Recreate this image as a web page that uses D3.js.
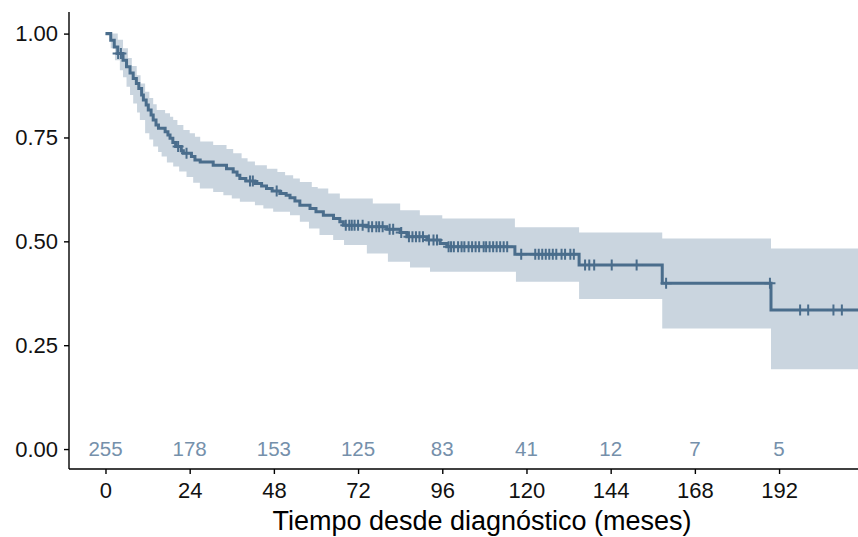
<!DOCTYPE html>
<html>
<head>
<meta charset="utf-8">
<script src="https://cdn.jsdelivr.net/npm/d3@7"></script>
<style>
  html, body { margin: 0; padding: 0; background: #ffffff; }
  svg { display: block; }
  text { font-family: "Liberation Sans", Arial, sans-serif; }
</style>
</head>
<body>
<svg id="chart" width="858" height="537"></svg>
<script>
// Kaplan–Meier estimate: step start times (months) and survival probability
const survTimes = [0, 1.5, 2.5, 3.5, 5.0, 6.0, 7.0, 7.9, 8.8, 9.5, 10.3, 10.8, 11.6, 12.2, 13.0, 13.6,
  14.4, 15.1, 17.0, 17.8, 18.4, 19.2, 20.0, 21.6, 22.2, 24.5, 25.5, 27.0, 30.7, 34.5, 36.4, 37.5,
  38.3, 40.0, 42.6, 44.5, 45.9, 47.5, 49.7, 51.5, 52.6, 54.0, 55.4, 58.3, 60.0, 62.1, 65.0, 66.8,
  67.8, 74.5, 80.2, 84.0, 85.9, 91.6, 95.4, 97.3, 116.7, 135.0, 158.7, 189.7];
const survValues = [1.000, 0.984, 0.968, 0.952, 0.936, 0.920, 0.905, 0.892, 0.880, 0.868, 0.852, 0.840, 0.828, 0.816, 0.804, 0.792,
  0.780, 0.772, 0.764, 0.756, 0.748, 0.738, 0.728, 0.718, 0.712, 0.704, 0.696, 0.691, 0.683, 0.675, 0.667, 0.659,
  0.651, 0.645, 0.639, 0.633, 0.627, 0.621, 0.615, 0.611, 0.605, 0.597, 0.587, 0.579, 0.571, 0.563, 0.555, 0.547,
  0.539, 0.535, 0.529, 0.521, 0.511, 0.503, 0.495, 0.487, 0.469, 0.443, 0.399, 0.335];

// 95% confidence limits (step functions)
const upperTimes = [0, 3.5, 5.0, 6.4, 7.5, 8.9, 10.0, 11.3, 12.5, 13.6, 14.6, 17.0, 18.4, 19.3, 20.5, 22.2,
  24.0, 25.5, 27.0, 30.7, 34.5, 36.4, 38.8, 40.5, 42.6, 46.0, 49.0, 51.2, 53.5, 55.4, 58.8, 60.5,
  63.5, 66.8, 76.2, 84.0, 89.6, 96.0, 116.7, 135.0, 158.7, 189.7];
const upperValues = [1.000, 0.985, 0.965, 0.941, 0.922, 0.900, 0.880, 0.860, 0.845, 0.830, 0.816, 0.808, 0.800, 0.792, 0.780, 0.768,
  0.760, 0.752, 0.740, 0.732, 0.722, 0.712, 0.700, 0.692, 0.683, 0.675, 0.667, 0.659, 0.651, 0.643, 0.631, 0.627,
  0.615, 0.603, 0.591, 0.575, 0.563, 0.555, 0.534, 0.521, 0.507, 0.483];
const lowerTimes = [0, 1.5, 2.7, 4.1, 5.0, 6.0, 7.0, 7.9, 9.0, 9.8, 11.3, 12.5, 13.6, 15.0, 16.0, 17.5,
  19.3, 21.0, 23.1, 25.0, 26.9, 30.7, 33.6, 36.0, 38.3, 42.6, 45.0, 47.8, 52.6, 55.4, 58.0, 61.0,
  64.9, 68.0, 74.5, 80.5, 86.8, 92.5, 117.0, 135.0, 158.7, 189.7];
const lowerValues = [0.995, 0.965, 0.936, 0.912, 0.895, 0.872, 0.852, 0.832, 0.810, 0.792, 0.760, 0.745, 0.728, 0.715, 0.704, 0.690,
  0.680, 0.668, 0.655, 0.641, 0.627, 0.619, 0.611, 0.603, 0.595, 0.587, 0.579, 0.571, 0.563, 0.547, 0.531, 0.515,
  0.503, 0.491, 0.471, 0.451, 0.437, 0.427, 0.403, 0.361, 0.290, 0.192];

// Censored observations (months)
const censorTimes = [3.6, 4.4, 20.7, 23.1, 41.2, 42.0, 48.8,
  68.5, 69.5, 70.2, 71.0, 72.0, 73.3, 75.0, 76.0, 77.2, 78.0, 79.0, 81.0, 82.0, 84.3,
  86.5, 87.5, 88.5, 89.5, 90.5, 92.2, 93.5, 94.5,
  97.8, 98.5, 99.3, 100.5, 101.5, 102.3, 103.5, 104.5, 105.5, 106.5, 107.8, 108.5, 109.5, 110.5, 111.5, 112.5, 113.5, 114.5,
  118.5, 122.5, 123.5, 124.5, 125.5, 126.5, 127.5, 128.5, 130.0, 131.0, 132.5, 133.5,
  136.7, 137.9, 139.3, 144.3, 151.4, 159.8, 189.4, 198.0, 200.3, 207.5, 209.9];

// Number at risk
const riskTimes = [0, 24, 48, 72, 96, 120, 144, 168, 192];
const riskCounts = [255, 178, 153, 125, 83, 41, 12, 7, 5];

const xTicks = [0, 24, 48, 72, 96, 120, 144, 168, 192];
const yTicks = [0, 0.25, 0.5, 0.75, 1];
const xTitle = "Tiempo desde diagnóstico (meses)";
const tMax = 214.5;

const lineColor = "#4a6d8c";
const bandColor = "#cad5df";
const riskColor = "#7590ab";

const svg = d3.select("#chart");
const plot = { left: 69, right: 858, top: 12, bottom: 469 };

const x = d3.scaleLinear().domain([-10.4, tMax]).range([plot.left, plot.right]);
const y = d3.scaleLinear().domain([-0.048, 1.052]).range([plot.bottom, plot.top]);

// step-function lookup
function stepAt(times, values, t) {
  const i = d3.bisectRight(times, t) - 1;
  return values[Math.max(0, i)];
}
function withEnd(times, values) {
  const pts = times.map((t, i) => ({ t, v: values[i] }));
  pts.push({ t: tMax, v: values[values.length - 1] });
  return pts;
}

svg.append("defs").append("clipPath").attr("id", "plotClip")
  .append("rect").attr("x", plot.left).attr("y", plot.top)
  .attr("width", plot.right - plot.left).attr("height", plot.bottom - plot.top);

const g = svg.append("g").attr("clip-path", "url(#plotClip)");

// confidence band as a stepped area
const bandTimes = Array.from(new Set([...upperTimes, ...lowerTimes])).sort((a, b) => a - b);
const bandPts = bandTimes.map(t => ({ t, hi: stepAt(upperTimes, upperValues, t), lo: stepAt(lowerTimes, lowerValues, t) }));
bandPts.push({ t: tMax, hi: upperValues[upperValues.length - 1], lo: lowerValues[lowerValues.length - 1] });

g.append("path")
  .datum(bandPts)
  .attr("fill", bandColor)
  .attr("d", d3.area().curve(d3.curveStepAfter)
    .x(d => x(d.t)).y0(d => y(d.lo)).y1(d => y(d.hi)));

// survival curve
g.append("path")
  .datum(withEnd(survTimes, survValues))
  .attr("fill", "none")
  .attr("stroke", lineColor)
  .attr("stroke-width", 3)
  .attr("d", d3.line().curve(d3.curveStepAfter).x(d => x(d.t)).y(d => y(d.v)));

// censor marks
g.append("g").selectAll("path.censor")
  .data(censorTimes)
  .join("path")
  .attr("class", "censor")
  .attr("transform", t => `translate(${x(t)},${y(stepAt(survTimes, survValues, t))})`)
  .attr("d", d3.line()([[-5.5, 0], [5.5, 0]]) + d3.line()([[0, -5.5], [0, 5.5]]))
  .attr("stroke", lineColor)
  .attr("stroke-width", 2)
  .attr("fill", "none");

// numbers at risk along the baseline
svg.append("g").selectAll("text.risk")
  .data(riskTimes)
  .join("text")
  .attr("class", "risk")
  .attr("x", t => x(t))
  .attr("y", y(0))
  .attr("dy", "0.36em")
  .attr("text-anchor", "middle")
  .attr("font-size", 20.5)
  .attr("fill", riskColor)
  .text((t, i) => riskCounts[i]);

// axes
const xAxis = svg.append("g")
  .attr("transform", `translate(0,${plot.bottom})`)
  .call(d3.axisBottom(x).tickValues(xTicks).tickSize(5).tickPadding(8).tickSizeOuter(0));
xAxis.select(".domain").attr("d", `M${plot.left},0H${plot.right}`);

const yAxis = svg.append("g")
  .attr("transform", `translate(${plot.left},0)`)
  .call(d3.axisLeft(y).tickValues(yTicks).tickFormat(d3.format(".2f")).tickSize(5).tickPadding(6).tickSizeOuter(0));
yAxis.select(".domain").attr("d", `M0,${plot.top}V${plot.bottom}`);

[xAxis, yAxis].forEach(a => {
  a.select(".domain").attr("stroke", "#000").attr("stroke-width", 1.4);
  a.selectAll(".tick line").attr("stroke", "#000").attr("stroke-width", 1.4);
  a.selectAll(".tick text").attr("font-size", 22).attr("fill", "#111")
    .attr("font-family", "'Liberation Sans', Arial, sans-serif");
});

svg.append("text")
  .attr("x", 482)
  .attr("y", 530)
  .attr("text-anchor", "middle")
  .attr("font-size", 27)
  .attr("fill", "#000")
  .text(xTitle);
</script>
</body>
</html>
